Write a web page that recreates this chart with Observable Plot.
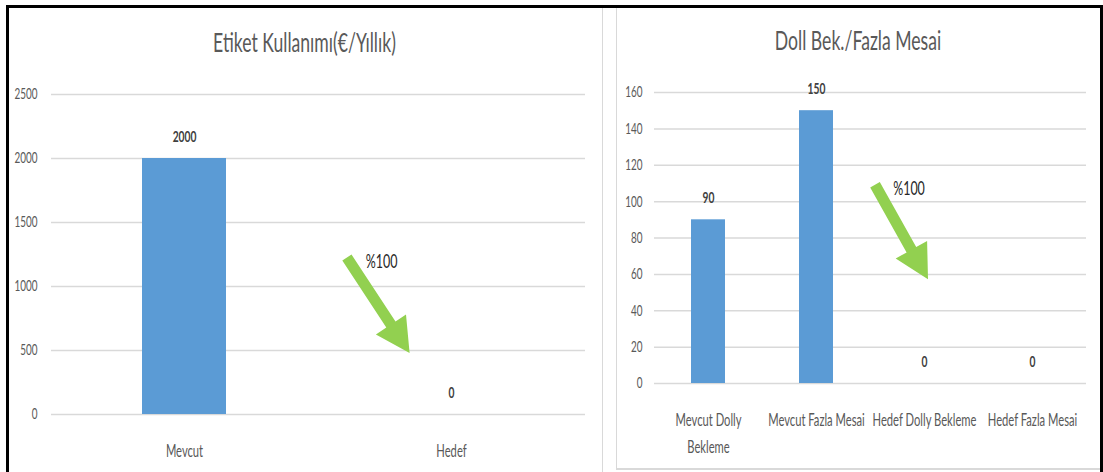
<!DOCTYPE html>
<html><head><meta charset="utf-8">
<script src="https://cdn.jsdelivr.net/npm/d3@7"></script>
<script src="https://cdn.jsdelivr.net/npm/@observablehq/plot@0.6"></script>
<style>
body{margin:0;background:#fff;}
#root{position:relative;width:1103px;height:472px;overflow:hidden;background:#fff;font-family:Lato,"Open Sans",sans-serif;}
.title{position:absolute;text-align:center;color:#595959;font-size:27.5px;line-height:1;white-space:nowrap;transform:scaleX(0.64);transform-origin:center;}
.chart{position:absolute;top:0;}
.line{position:absolute;background:#d9d9d9;}
#frame{position:absolute;left:6px;top:5px;width:1097px;height:520px;border:3px solid #000;border-bottom:none;box-sizing:border-box;}
</style></head><body>
<div id="root">
 <div id="left" class="chart" style="left:0"></div>
 <div id="right" class="chart" style="left:600px"></div>
 <div class="title" style="left:9px;width:591px;top:27.5px">Etiket Kullanımı(€/Yıllık)</div>
 <div class="title" style="left:616px;width:484px;top:25.5px">Doll Bek./Fazla Mesai</div>
 <div class="line" style="left:601.5px;top:8px;width:1.5px;height:470px"></div>
 <div class="line" style="left:615.5px;top:8px;width:1.5px;height:461px"></div>
 <div class="line" style="left:615.5px;top:468px;width:486px;height:1.5px"></div>
 <div id="frame"></div>
</div>
<script>
// ---- data ----
const etiketCategories = ["Mevcut", "Hedef"];
const etiketValues = [2000, 0];
const etiketTicks = [0, 500, 1000, 1500, 2000, 2500];

const dollyCategories = ["Mevcut Dolly Bekleme", "Mevcut Fazla Mesai", "Hedef Dolly Bekleme", "Hedef Fazla Mesai"];
const dollyTickLabels = ["Mevcut Dolly\nBekleme", "Mevcut Fazla Mesai", "Hedef Dolly Bekleme", "Hedef Fazla Mesai"];
const dollyValues = [90, 150, 0, 0];
const dollyTicks = [0, 20, 40, 60, 80, 100, 120, 140, 160];

const reductionLabel = "%100";
// annotation arrows: t = position in category-index units, v = value units
const etiketArrow = {t0: 0.61, v0: 1223, t1: 0.845, v1: 477, noteT: 0.74, noteV: 1191};
const dollyArrow = {t0: 1.546, v0: 109, t1: 2.037, v1: 57, noteT: 1.861, noteV: 107};

const SQUASH = 0.64;
const BAR = "#5B9BD5", GRID = "#d9d9d9", GREEN = "#92D050";

function arrowMark(cats, a) {
  return (index, scales) => {
    const x = scales.x, y = scales.y;
    const off = typeof x.bandwidth === "function" ? x.bandwidth() / 2 : 0;
    const base = x(cats[0]) + off, step = x(cats[1]) - x(cats[0]);
    const px = t => base + t * step;
    const T = [px(a.t0), y(a.v0)], P = [px(a.t1), y(a.v1)];
    const dx = P[0] - T[0], dy = P[1] - T[1], L = Math.hypot(dx, dy);
    const u = [dx / L, dy / L], n = [-u[1], u[0]];
    const sh = 5.5, hh = 18, hl = 34;
    const B = [P[0] - u[0] * hl, P[1] - u[1] * hl];
    const pt = (p, k) => [p[0] + n[0] * k, p[1] + n[1] * k];
    const pts = [pt(T, sh), pt(B, sh), pt(B, hh), P, pt(B, -hh), pt(B, -sh), pt(T, -sh)];
    const ns = "http://www.w3.org/2000/svg";
    const g = document.createElementNS(ns, "g");
    const path = document.createElementNS(ns, "path");
    path.setAttribute("d", "M" + pts.map(p => p[0].toFixed(1) + "," + p[1].toFixed(1)).join("L") + "Z");
    path.setAttribute("fill", GREEN);
    g.appendChild(path);
    const text = document.createElementNS(ns, "text");
    text.setAttribute("transform", `translate(${px(a.noteT).toFixed(1)},${y(a.noteV).toFixed(1)})`);
    text.setAttribute("text-anchor", "middle");
    text.setAttribute("dy", "0.32em");
    text.setAttribute("font-size", "19.5");
    text.setAttribute("fill", "#262626");
    text.textContent = reductionLabel;
    g.appendChild(text);
    return g;
  };
}

function squash(svg) {
  for (const t of svg.querySelectorAll("text")) {
    const tr = t.getAttribute("transform") || "";
    t.setAttribute("transform", (tr + ` scale(${SQUASH},1)`).trim());
  }
  return svg;
}

function chart({cats, values, ticks, tickLabels, arrow, width, marginLeft, marginRight, marginTop, marginBottom, tickPadding}) {
  const data = cats.map((c, i) => ({c, v: values[i]}));
  return Plot.plot({
    width, height: 472,
    marginLeft, marginRight, marginTop, marginBottom,
    style: {background: "transparent", fontFamily: "Lato, 'Open Sans', sans-serif", color: "#595959", overflow: "visible"},
    x: {domain: cats, paddingInner: 0.685, paddingOuter: 0.3425, align: 0.5},
    y: {domain: [ticks[0], ticks[ticks.length - 1]]},
    marks: [
      Plot.gridY(ticks, {stroke: GRID, strokeOpacity: 1, strokeWidth: 1.5}),
      Plot.barY(data, {x: "c", y: "v", fill: BAR}),
      Plot.axisY(ticks, {tickSize: 0, tickPadding, tickFormat: d => String(d), fontSize: 15.5, label: null}),
      Plot.axisX({tickSize: 0, tickPadding: 23, fontSize: 17.5, lineHeight: 1.55, label: null,
        tickFormat: d => tickLabels[cats.indexOf(d)]}),
      Plot.text(data, {x: "c", y: "v", text: d => String(d.v), dy: -22, fontSize: 16, fontWeight: "bold", fill: "#404040"}),
      arrowMark(cats, arrow)
    ]
  });
}

const left = chart({cats: etiketCategories, values: etiketValues, ticks: etiketTicks, tickLabels: etiketCategories,
  arrow: etiketArrow, width: 600, marginLeft: 51, marginRight: 15, marginTop: 94, marginBottom: 58, tickPadding: 14});
const right = chart({cats: dollyCategories, values: dollyValues, ticks: dollyTicks, tickLabels: dollyTickLabels,
  arrow: dollyArrow, width: 503, marginLeft: 54, marginRight: 17, marginTop: 92, marginBottom: 89, tickPadding: 12});
document.getElementById("left").appendChild(squash(left));
document.getElementById("right").appendChild(squash(right));
</script>
</body></html>
